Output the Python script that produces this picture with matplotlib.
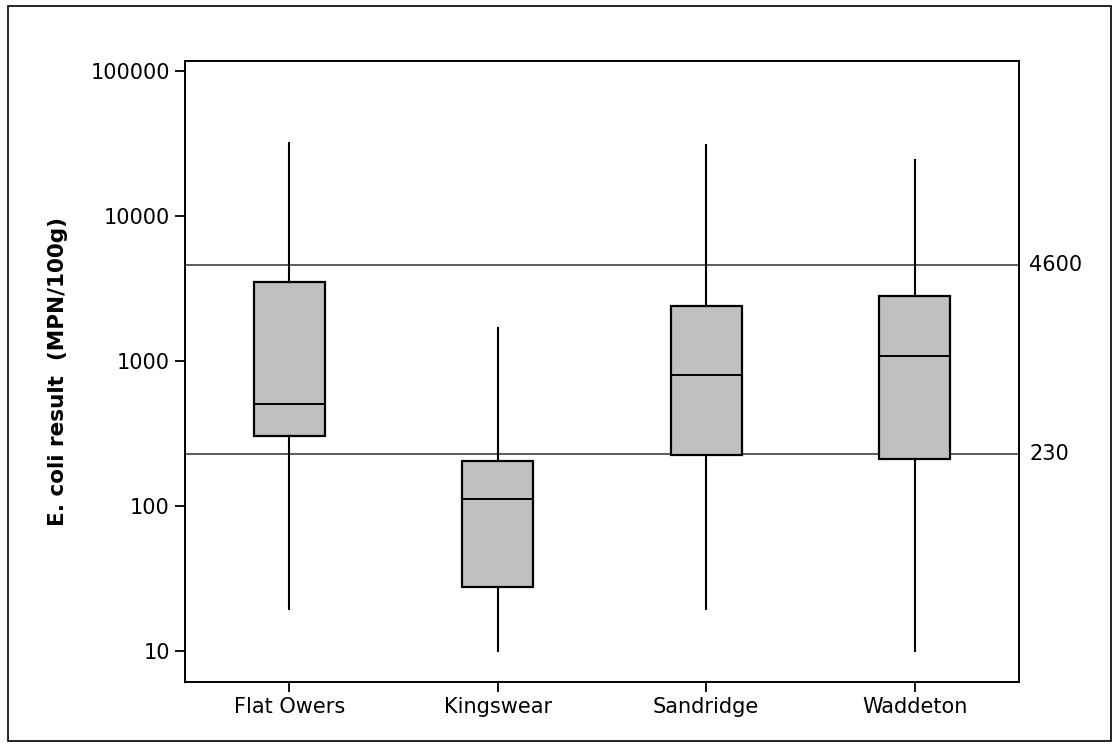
import numpy as np
import matplotlib
matplotlib.use('Agg')
import matplotlib.pyplot as plt
import matplotlib.transforms as mtrans
from matplotlib.patches import Rectangle

# 各地点の箱ひげ図の値
sites = ['Flat Owers', 'Kingswear', 'Sandridge', 'Waddeton']
whis_lo = [19.5, 10, 19.5, 10]
q1 = [305, 27.7, 226, 211]
med = [502, 112, 796, 1080]
q3 = [3490, 205, 2400, 2820]
whis_hi = [31800, 1680, 31000, 24300]

# 基準線
ref_levels = [4600, 230]
ref_labels = ['4600', '230']

y_ticks = [10, 100, 1000, 10000, 100000]
y_label = 'E. coli result  (MPN/100g)'

plt.rcParams['font.family'] = ['DejaVu Sans']

fig = plt.figure(figsize=(11.19, 7.47), dpi=100)
ax = fig.add_axes([185/1119, 1-682/747, (1019-185)/1119, (682-61)/747])

stats = []
for i, name in enumerate(sites):
    stats.append({'label': name, 'whislo': whis_lo[i], 'q1': q1[i], 'med': med[i],
                  'q3': q3[i], 'whishi': whis_hi[i], 'fliers': []})

ax.bxp(stats, positions=np.arange(1, len(sites)+1), widths=0.34, patch_artist=True,
       showcaps=False, showfliers=False,
       boxprops=dict(facecolor='#c0c0c0', edgecolor='black', linewidth=1.6),
       medianprops=dict(color='black', linewidth=1.4),
       whiskerprops=dict(color='black', linewidth=1.5))

ax.set_yscale('log')
ax.set_ylim(10**0.786, 10**5.069)
ax.set_xlim(0.5, 4.5)

for lvl, lab in zip(ref_levels, ref_labels):
    ax.axhline(lvl, color='#404040', linewidth=1.2, zorder=0.5)
    tr = mtrans.blended_transform_factory(ax.transAxes, ax.transData)
    ax.text(1.012, lvl, lab, transform=tr, va='center', ha='left', fontsize=15)

ax.set_yticks(y_ticks)
ax.set_yticklabels([str(t) for t in y_ticks])
ax.yaxis.set_minor_locator(matplotlib.ticker.NullLocator())
ax.set_xticks(np.arange(1, len(sites)+1))
ax.set_xticklabels(sites)
ax.tick_params(axis='both', labelsize=15, length=7, width=1.3, direction='out', pad=4)
for s in ax.spines.values():
    s.set_linewidth(1.4)

ax.set_ylabel(y_label, fontsize=15.5, fontweight='bold', labelpad=16)

# 外枠
fig.patches.append(Rectangle((8/1119, 6/747), 1103/1119, 735/747, transform=fig.transFigure,
                             fill=False, edgecolor='black', linewidth=1.2))

fig.savefig('out.png', dpi=100)
